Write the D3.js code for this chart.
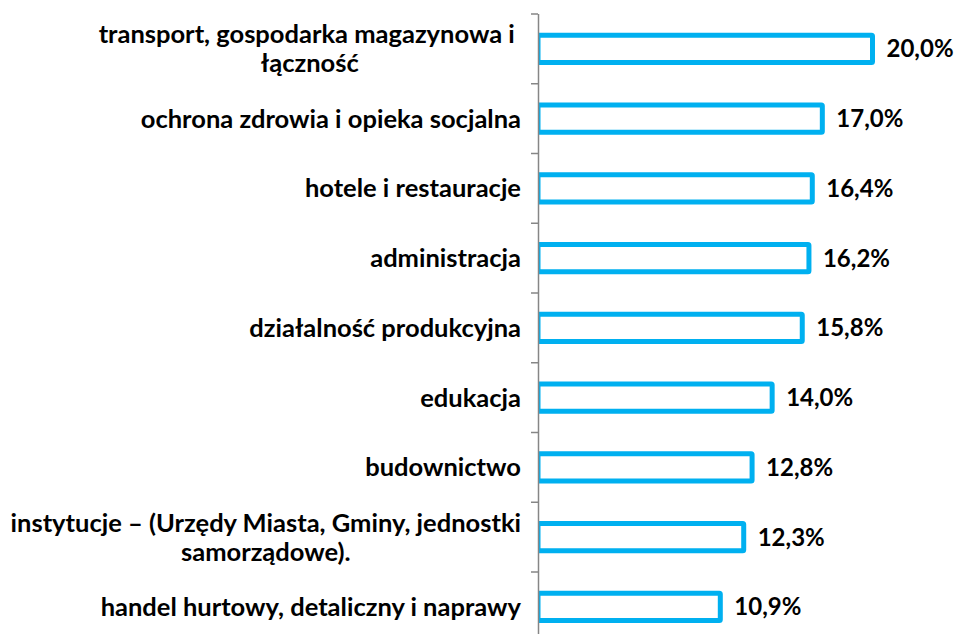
<!DOCTYPE html>
<html>
<head>
<meta charset="utf-8">
<script src="https://cdn.jsdelivr.net/npm/d3@7"></script>
<style>
  body { margin: 0; background: #fff; }
  svg { display: block; }
  text { font-family: Lato, "Open Sans", sans-serif; font-weight: bold; fill: #000; }
</style>
</head>
<body>
<svg id="chart"></svg>
<script>
// label lines per category (top to bottom)
const categories = [
    ["transport, gospodarka magazynowa i ", "łączność"],
    ["ochrona zdrowia i opieka socjalna"],
    ["hotele i restauracje"],
    ["administracja"],
    ["działalność produkcyjna"],
    ["edukacja"],
    ["budownictwo"],
    ["instytucje – (Urzędy Miasta, Gminy, jednostki", "samorządowe)."],
    ["handel hurtowy, detaliczny i naprawy"]
];
const values = [20.0, 17.0, 16.4, 16.2, 15.8, 14.0, 12.8, 12.3, 10.9];
const valueLabels = ["20,0%", "17,0%", "16,4%", "16,2%", "15,8%", "14,0%", "12,8%", "12,3%", "10,9%"];

const width = 955, height = 634;
const blue = "#00B0F0";
const fontSize = 25.5;
const valueFontSize = 24;

const svg = d3.select("#chart")
    .attr("width", width)
    .attr("height", height);

const ids = categories.map((d, i) => i);

const y = d3.scaleBand()
    .domain(ids)
    .range([14, 14 + 9 * 69.75])
    .padding(0);

const x = d3.scaleLinear()
    .domain([0, 20])
    .range([538, 872.5]);

const barH = y.bandwidth() * 0.39;

svg.append("clipPath")
    .attr("id", "plot")
    .append("rect")
    .attr("x", 538)
    .attr("y", 0)
    .attr("width", width - 538)
    .attr("height", height);

// bars
svg.append("g")
    .attr("clip-path", "url(#plot)")
    .selectAll("rect")
    .data(values)
    .join("rect")
    .attr("x", x(0))
    .attr("y", (d, i) => y(i) + (y.bandwidth() - barH) / 2)
    .attr("width", d => x(d) - x(0))
    .attr("height", barH)
    .attr("fill", "#fff")
    .attr("stroke", blue)
    .attr("stroke-width", 5)
    .attr("rx", 1);

// value labels
svg.append("g")
    .selectAll("text")
    .data(values)
    .join("text")
    .attr("x", d => x(d) + 14)
    .attr("y", (d, i) => y(i) + y.bandwidth() / 2)
    .attr("dy", "0.35em")
    .attr("font-size", valueFontSize)
    .text((d, i) => valueLabels[i]);

// y axis
const yAxis = svg.append("g")
    .attr("transform", `translate(${x(0) + 0.5}, 0)`)
    .call(d3.axisLeft(y).tickSize(0).tickFormat(""));
yAxis.select(".domain").attr("stroke", "#868686").attr("stroke-width", 1.5)
    .attr("d", `M0,14V${height + 20}`);

// tick marks between categories
svg.append("g")
    .selectAll("line")
    .data(d3.range(categories.length + 1))
    .join("line")
    .attr("x1", x(0) - 7)
    .attr("x2", x(0))
    .attr("y1", i => 14 + i * y.step())
    .attr("y2", i => 14 + i * y.step())
    .attr("stroke", "#868686")
    .attr("stroke-width", 1.5);

// category labels: right-aligned block, lines centered within it
const labelRight = 521;
const lineGap = 29;
const labels = svg.append("g");
categories.forEach((lines, i) => {
    const cy = y(i) + y.bandwidth() / 2;
    const g = labels.append("g");
    const texts = lines.map((line, j) => g.append("text")
        .attr("font-size", fontSize)
        .attr("dy", "0.35em")
        .style("white-space", "pre")
        .attr("y", cy + (j - (lines.length - 1) / 2) * lineGap)
        .text(line));
    const widths = texts.map(t => t.node().getComputedTextLength());
    const maxW = d3.max(widths);
    const center = labelRight - maxW / 2;
    texts.forEach(t => t.attr("x", center).attr("text-anchor", "middle"));
});
</script>
</body>
</html>
